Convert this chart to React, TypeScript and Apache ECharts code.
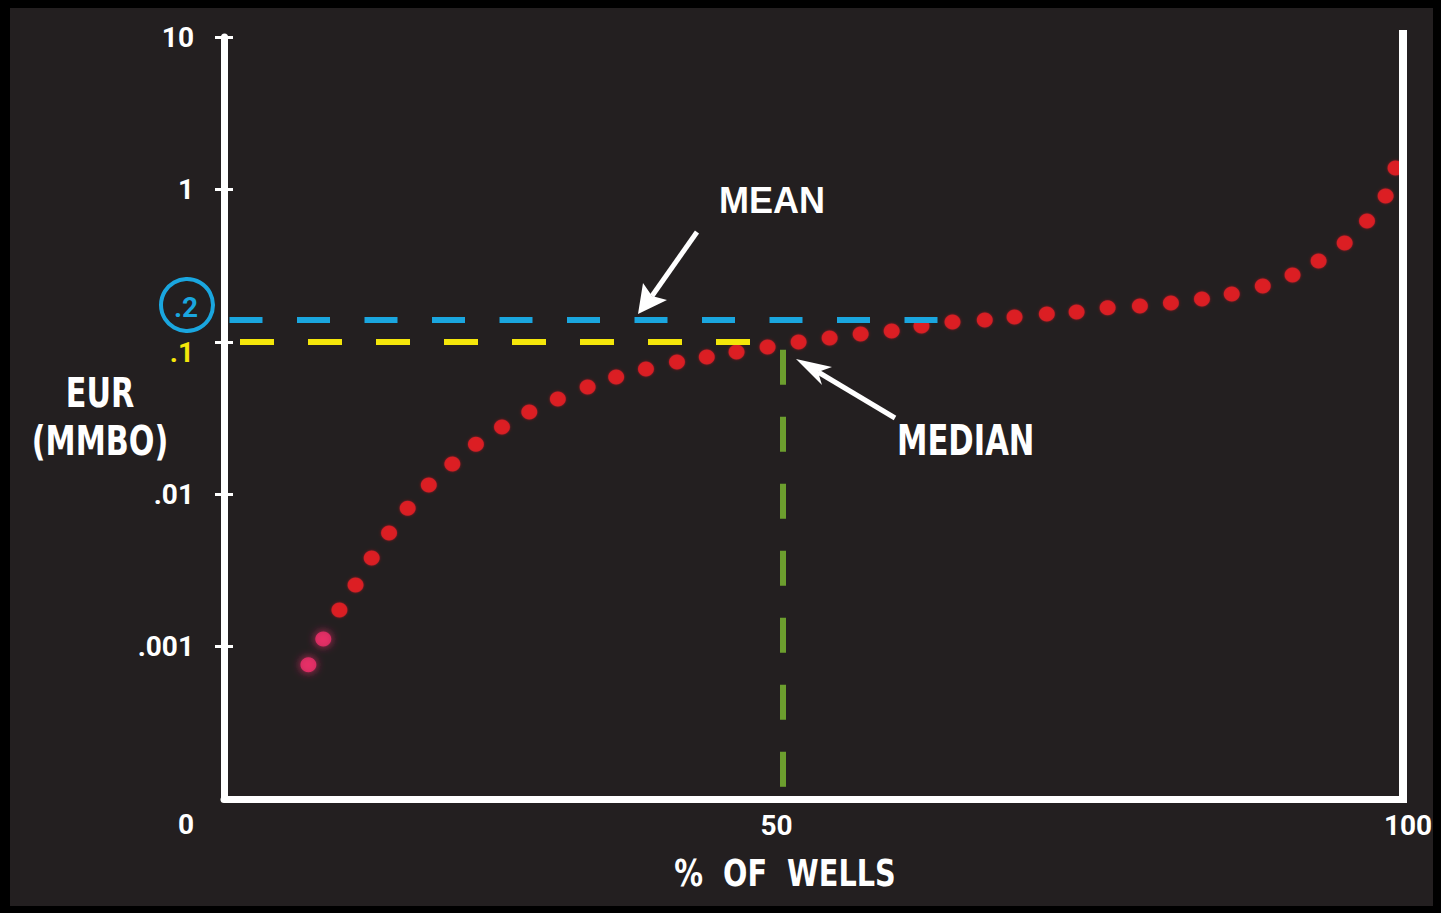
import React, { useEffect, useRef } from "react";
import * as echarts from "echarts";

// Cumulative share of wells (%) and estimated ultimate recovery per well (MMBO)
const wellPct = [
  11.8, 13.0, 14.3, 15.6, 16.9, 18.3, 19.8, 21.5, 23.4, 25.3, 27.4, 29.6, 31.9, 34.3,
  36.6, 39.0, 41.5, 43.9, 46.3, 48.8, 51.3, 53.8, 56.3, 58.8, 61.2, 63.7, 66.3, 68.7,
  71.3, 73.7, 76.2, 78.8, 81.3, 83.8, 86.2, 88.7, 91.1, 93.2, 95.3, 97.1, 98.6, 99.4,
];
const eurMMBO = [
  0.00076, 0.00112, 0.00174, 0.00254, 0.00381, 0.00556, 0.0081, 0.0115, 0.0158, 0.0213,
  0.0276, 0.0346, 0.0421, 0.0505, 0.0587, 0.0664, 0.0736, 0.0794, 0.0857, 0.0924,
  0.0997, 0.106, 0.1125, 0.1177, 0.127, 0.135, 0.139, 0.1455, 0.152, 0.157, 0.167,
  0.172, 0.18, 0.191, 0.206, 0.232, 0.274, 0.339, 0.445, 0.621, 0.906, 1.38,
];

// Reference levels
const meanEUR = 0.14;
const meanLabel = ".2";
const medianEUR = 0.1;
const medianPct = 50;
const meanLineEndPct = 62.9;

// Axis ticks and labels
const yTickValues = [0.0001, 0.001, 0.01, 0.1, 1, 10];
const yTickLabels = ["0", ".001", ".01", ".1", "1", "10"];
const xTickValues = [50, 100];
const xTickLabels = ["50", "100"];
const yTitle = ["EUR", "(MMBO)"];
const xTitle = "%  OF  WELLS";

const NARROW = "'DejaVu Sans Condensed', 'DejaVu Sans', sans-serif";
const TICKFONT = "Roboto, 'Liberation Sans', sans-serif";
const WIDE = "'Liberation Sans', Arial, sans-serif";
const CYAN = "#1aa6df";
const YELLOW = "#f4e60a";
const GREEN = "#6c9e2e";
const RED = "#f01c26";
const WHITE = "#ffffff";

export default function App() {
  const ref = useRef<HTMLDivElement>(null);

  useEffect(() => {
    const el = ref.current;
    if (!el) return;
    const chart = echarts.init(el, null, { renderer: "svg" });

    const labelBase = {
      color: WHITE,
      fontFamily: TICKFONT,
      fontWeight: "bold" as const,
      fontSize: 28,
    };

    const points = wellPct.map((x, i) => {
      const item: any = { value: [x, eurMMBO[i]] };
      if (i < 2) {
        item.itemStyle = { color: "#f3306c", shadowBlur: 8, shadowColor: "#ff2a70" };
      }
      return item;
    });

    const yFormatter = (v: number) => {
      const i = yTickValues.findIndex((t) => Math.abs(Math.log10(t) - Math.log10(v)) < 1e-6);
      if (i < 0) return "";
      const s = yTickLabels[i];
      if (yTickValues[i] === medianEUR) return `{mid|${s}}`;
      if (i === 0) return `{base|${s}}`;
      return s;
    };

    const xFormatter = (v: number) => {
      const i = xTickValues.indexOf(v);
      if (i < 0) return "";
      return i === 0 ? `{l|${xTickLabels[i]}}` : `{r|${xTickLabels[i]}}`;
    };

    const title = (text: string, x: number, y: number, size: number, sx: number, align = "center") => ({
      type: "text",
      x,
      y,
      scaleX: sx,
      style: {
        text,
        fill: WHITE,
        font: `bold ${size}px ${NARROW}`,
        textAlign: align,
        textVerticalAlign: "middle",
      },
      z: 20,
    });

    const arrow = (tail: number[], notch: number[], tip: number[], b1: number[], b2: number[]) => [
      {
        type: "line",
        shape: { x1: tail[0], y1: tail[1], x2: notch[0], y2: notch[1] },
        style: { stroke: WHITE, lineWidth: 5 },
        z: 20,
      },
      {
        type: "polygon",
        shape: { points: [tip, b1, notch, b2] },
        style: { fill: WHITE },
        z: 20,
      },
    ];

    const tickStyle = { color: WHITE, width: 3 };

    chart.setOption({
      animation: false,
      backgroundColor: "#000",
      grid: {
        left: 224,
        right: 38,
        top: 37,
        bottom: 114,
        containLabel: false,
        outerBoundsMode: "none",
      },
      xAxis: {
        type: "value",
        min: 5,
        max: 100,
        axisLine: { show: true, lineStyle: { color: WHITE, width: 7 } },
        axisTick: { show: false },
        splitLine: { show: false },
        axisLabel: {
          ...labelBase,
          margin: 12,
          customValues: xTickValues,
          formatter: xFormatter,
          rich: {
            l: { ...labelBase, padding: [0, 12, 0, 0] },
            r: { ...labelBase, padding: [0, 0, 0, 10] },
          },
        },
      },
      yAxis: [
        {
          type: "log",
          logBase: 10,
          min: 0.0001,
          max: 10,
          axisLine: { show: true, lineStyle: { color: WHITE, width: 7 } },
          axisTick: {
            show: true,
            length: 9,
            customValues: yTickValues.slice(1),
            lineStyle: tickStyle,
          },
          splitLine: { show: false },
          axisLabel: {
            ...labelBase,
            margin: 30,
            customValues: yTickValues,
            formatter: yFormatter,
            rich: {
              mid: { ...labelBase, color: YELLOW, padding: [22, 0, 0, 0] },
              base: { ...labelBase, padding: [50, 0, 0, 0] },
            },
          },
        },
        {
          type: "log",
          logBase: 10,
          min: 0.0001,
          max: 10,
          position: "left",
          axisLine: { show: false },
          axisTick: {
            show: true,
            inside: true,
            length: 9,
            customValues: yTickValues.slice(1),
            lineStyle: tickStyle,
          },
          axisLabel: { show: false },
          splitLine: { show: false },
        },
      ],
      series: [
        {
          name: "Median reference",
          type: "line",
          data: [],
          z: 2,
          markLine: {
            silent: true,
            symbol: ["none", "none"],
            label: { show: false },
            data: [
              [
                { coord: [5, medianEUR] },
                { coord: [medianPct, medianEUR] },
              ],
            ],
            lineStyle: { color: YELLOW, width: 6, type: [34, 34], dashOffset: 52 },
          },
        },
        {
          name: "Median well",
          type: "line",
          data: [],
          z: 2,
          markLine: {
            silent: true,
            symbol: ["none", "none"],
            label: { show: false },
            data: [
              [
                { coord: [medianPct, medianEUR] },
                { coord: [medianPct, 0.0001] },
              ],
            ],
            lineStyle: { color: GREEN, width: 6, type: [35, 32], dashOffset: 59 },
          },
        },
        {
          name: "EUR",
          type: "scatter",
          z: 3,
          symbol: "circle",
          symbolSize: [16, 15],
          itemStyle: { color: RED, shadowBlur: 3, shadowColor: "rgba(255,30,40,0.6)" },
          data: points,
        },
        {
          name: "Mean",
          type: "line",
          data: [],
          z: 4,
          markLine: {
            silent: true,
            symbol: ["none", "none"],
            label: { show: false },
            data: [
              [
                { coord: [5, meanEUR] },
                { coord: [meanLineEndPct, meanEUR] },
              ],
            ],
            lineStyle: { color: CYAN, width: 6, type: [33, 34.5], dashOffset: 61.5 },
          },
        },
      ],
      graphic: [
        {
          type: "rect",
          shape: { x: 10, y: 8, width: 1423, height: 898 },
          style: { fill: "#231f20" },
          z: -10,
          silent: true,
        },
        {
          type: "line",
          shape: { x1: 1403, y1: 30, x2: 1403, y2: 803 },
          style: { stroke: WHITE, lineWidth: 8 },
          z: 10,
        },
        {
          type: "circle",
          shape: { cx: 187, cy: 305, r: 26 },
          style: { fill: "none", stroke: CYAN, lineWidth: 4 },
          z: 10,
        },
        {
          type: "text",
          x: 186,
          y: 307,
          style: {
            text: meanLabel,
            fill: CYAN,
            font: `bold 28px ${TICKFONT}`,
            textAlign: "center",
            textVerticalAlign: "middle",
          },
          z: 10,
        },
        title(yTitle[0], 100, 393, 40, 0.84),
        title(yTitle[1], 100, 441, 40, 0.84),
        title(xTitle, 785, 872, 38, 0.84),
        {
          type: "text",
          x: 772,
          y: 200,
          style: {
            text: "MEAN",
            fill: WHITE,
            font: `bold 36px ${WIDE}`,
            textAlign: "center",
            textVerticalAlign: "middle",
          },
          z: 20,
        },
        title("MEDIAN", 897, 441, 42, 0.81, "left"),
        ...arrow([697, 232], [652, 296], [638, 314], [643, 283], [667, 300]),
        ...arrow([895, 418], [818, 372], [796, 359], [832, 367], [822, 385]),
      ],
    });

    return () => chart.dispose();
  }, []);

  return (
    <div
      ref={ref}
      style={{ position: "fixed", left: 0, top: 0, width: 1441, height: 913 }}
    />
  );
}
